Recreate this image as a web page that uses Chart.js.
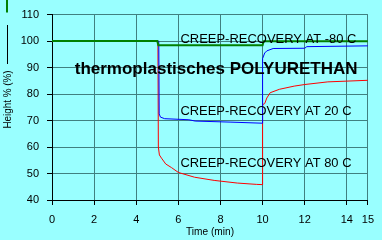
<!DOCTYPE html>
<html>
<head>
<meta charset="utf-8">
<script src="https://cdn.jsdelivr.net/npm/chart.js@4"></script>
<style>
  body { margin: 0; background: #99ffff; }
  canvas { display: block; }
</style>
</head>
<body>
<canvas id="chart" width="382" height="240"></canvas>
<script>
// Creep-recovery curves, height % vs time (min)
const xTicks = [0, 2, 4, 6, 8, 10, 12, 14, 15];

const timeMinus80 = [0, 5.0, 5.05, 10.0, 10.05, 15];
const heightMinus80 = [100, 100, 98.4, 98.4, 99.9, 99.9];

const time20 = [0, 5.07, 5.09, 5.15, 5.35, 6.5, 6.8, 8.5, 9.98, 10.0, 10.1, 10.2, 10.5, 12.0, 12.1, 15];
const height20 = [100, 100, 72.5, 71.3, 70.7, 70.3, 69.8, 69.4, 69.0, 93.4, 95.5, 96.3, 97.2, 97.3, 97.9, 98.2];

const time80 = [0, 5.03, 5.05, 5.1, 5.2, 5.4, 5.68, 6.0, 6.77, 7.7, 8.8, 9.7, 9.98, 10.0, 10.1, 10.2, 10.36, 10.8, 11.5, 12.0, 13.1, 15];
const height80 = [100, 100, 60, 57, 55.8, 53.6, 52.2, 50.4, 48.6, 47.4, 46.4, 45.9, 45.8, 76, 76.4, 78.5, 80.5, 81.8, 83, 83.6, 84.6, 85.2];

const labels = ['CREEP-RECOVERY AT -80 C', 'CREEP-RECOVERY AT 20 C', 'CREEP-RECOVERY AT 80 C'];
const labelX = [6.1, 6.1, 6.1];
const labelY = [99.4, 72.2, 52.3];

function points(xs, ys) {
  return xs.map((x, i) => ({ x: x, y: ys[i] }));
}

const textPlugin = {
  id: 'texts',
  afterDraw(chart) {
    const ctx = chart.ctx;
    const xs = chart.scales.x, ys = chart.scales.y;
    ctx.save();
    ctx.fillStyle = '#000';
    ctx.textBaseline = 'alphabetic';
    ctx.textAlign = 'left';

    // curve annotations
    ctx.font = '13px "Liberation Sans", Arial, sans-serif';
    labels.forEach((t, i) => {
      ctx.fillText(t, xs.getPixelForValue(labelX[i]), ys.getPixelForValue(labelY[i]), i === 0 ? 176 : 171);
    });

    // big title inside the plot
    ctx.font = 'bold 17px "Liberation Sans", Arial, sans-serif';
    ctx.fillText('thermoplastisches POLYURETHAN', xs.getPixelForValue(1.08), ys.getPixelForValue(87.4), 283);

    // x axis title
    ctx.font = '11px "Liberation Sans", Arial, sans-serif';
    ctx.textAlign = 'center';
    ctx.textBaseline = 'middle';
    ctx.fillText('Time (min)', 210, 232, 48);

    // y axis title with line marks
    ctx.strokeStyle = '#008000';
    ctx.lineWidth = 2;
    ctx.beginPath();
    ctx.moveTo(7, 0);
    ctx.lineTo(7, 12.5);
    ctx.stroke();
    ctx.strokeStyle = '#000';
    ctx.lineWidth = 1;
    ctx.beginPath();
    ctx.moveTo(7.5, 25);
    ctx.lineTo(7.5, 64);
    ctx.stroke();

    ctx.translate(8, 99.5);
    ctx.rotate(-Math.PI / 2);
    ctx.fillText('Height % (%)', 0, 0, 58);
    ctx.restore();
  }
};

const font = { family: '"Liberation Sans", Arial, sans-serif', size: 11 };

new Chart(document.getElementById('chart'), {
  type: 'line',
  data: {
    datasets: [
      { data: points(timeMinus80, heightMinus80), borderColor: '#008000', borderWidth: 2 },
      { data: points(time20, height20), borderColor: '#0000ff', borderWidth: 1 },
      { data: points(time80, height80), borderColor: '#ff0000', borderWidth: 1 }
    ]
  },
  options: {
    responsive: false,
    animation: false,
    devicePixelRatio: 1,
    layout: { padding: { top: 7, right: 9.5, left: 0, bottom: 0 } },
    elements: { point: { radius: 0 }, line: { tension: 0 } },
    plugins: { legend: { display: false }, tooltip: { enabled: false } },
    scales: {
      x: {
        type: 'linear',
        min: 0,
        max: 15,
        afterBuildTicks: (scale) => { scale.ticks = xTicks.map(v => ({ value: v })); },
        afterFit: (scale) => { scale.height = 40; },
        ticks: { color: '#000', font: font, padding: 8, maxRotation: 0, autoSkip: false },
        grid: {
          color: (c) => (c.tick && c.tick.value === 0 ? 'rgba(0,0,0,0)' : '#408080'),
          tickColor: '#000',
          tickLength: 5
        },
        border: { color: '#000', width: 1 }
      },
      y: {
        min: 40,
        max: 110,
        afterFit: (scale) => { scale.width = 52; },
        ticks: { stepSize: 10, color: '#000', font: font, padding: 8 },
        grid: {
          color: (c) => (c.tick && c.tick.value === 40 ? 'rgba(0,0,0,0)' : '#408080'),
          tickColor: '#000',
          tickLength: 5
        },
        border: { color: '#000', width: 1 }
      }
    }
  },
  plugins: [textPlugin]
});
</script>
</body>
</html>
